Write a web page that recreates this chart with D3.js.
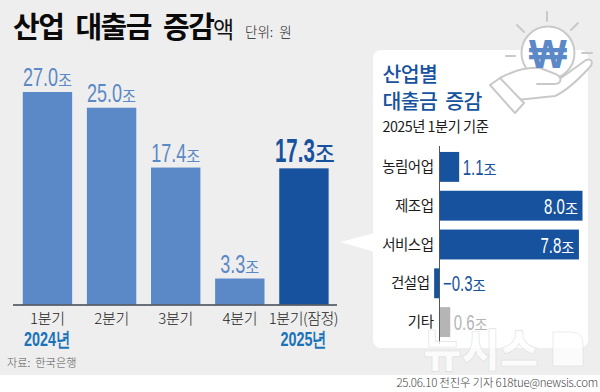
<!DOCTYPE html>
<html><head><meta charset="utf-8">
<script src="https://cdn.jsdelivr.net/npm/d3@7"></script>
<style>
html,body{margin:0;padding:0;background:#fff}
svg{display:block}
text{font-family:"Noto Sans CJK KR","Noto Sans",sans-serif}
.num{font-family:"Liberation Sans",sans-serif}
</style></head><body>
<svg id="c" width="600" height="392"></svg>
<script>
const quarters=["1분기","2분기","3분기","4분기","1분기(잠정)"];
const quarterValues=[27.0,25.0,17.4,3.3,17.3];
const quarterLabels=["27.0","25.0","17.4","3.3","17.3"];
const yearLabels=[["2024년",0],["2025년",4]];
const sectors=["농림어업","제조업","서비스업","건설업","기타"];
const sectorValues=[1.1,8.0,7.8,-0.3,0.6];
const sectorLabels=["1.1","8.0","7.8","−0.3","0.6"];

const svg=d3.select("#c");
svg.append("rect").attr("width",600).attr("height",375).attr("fill","#eeeeee");

// number + unit label, with the digits horizontally condensed like the original typeface
function label(g,x,y,num,unit,o){
  const n=g.append("text").attr("class","num").attr("font-size",o.size).attr("fill",o.fill).attr("font-weight",o.nw||400).text(num);
  const u=g.append("text").attr("font-size",o.usize).attr("fill",o.fill).attr("font-weight",o.uw||400).text(unit);
  const nw=n.node().getComputedTextLength()*o.sx, uw=u.node().getComputedTextLength()*(o.usx||0.95);
  const total=nw+uw;
  const x0=o.anchor=="end"?x-total:o.anchor=="start"?x:x-total/2;
  n.attr("transform",`translate(${x0},${y}) scale(${o.sx},1)`);
  u.attr("transform",`translate(${x0+nw},${y}) scale(${o.usx||0.95},1)`);
}

// Title
svg.append("text").attr("x",13).attr("y",38).attr("font-size",29).attr("font-weight",700).attr("letter-spacing",-1.5).attr("word-spacing",7).attr("fill","#0a0a0a").attr("xml:space","preserve").text("산업 대출금 증감");
svg.append("text").attr("x",213).attr("y",38).attr("font-size",23).attr("font-weight",400).attr("fill","#111").text("액");
svg.append("text").attr("x",245).attr("y",37).attr("font-size",13.5).attr("font-weight",300).attr("fill","#222").attr("xml:space","preserve").text("단위:  원");

// Main bars
const x=d3.scaleBand().domain(d3.range(quarters.length)).range([15.4,336]).paddingInner(0.23).paddingOuter(0.115);
const y=d3.scaleLinear().domain([0,27]).range([304.5,92]);
const main=svg.append("g");
main.selectAll("rect").data(quarterValues).join("rect")
  .attr("x",(d,i)=>x(i)).attr("y",d=>y(d)).attr("width",x.bandwidth()).attr("height",d=>y(0)-y(d))
  .attr("fill",(d,i)=>i==4?"#17529e":"#5b88c6");
quarterValues.forEach((d,i)=>{
  const big=i==4;
  label(main,x(i)+x.bandwidth()/2+(big?1:0),y(d)-6,quarterLabels[i],"조",
    big?{fill:"#17529e",size:33,sx:0.62,nw:700,usize:23,uw:500}
       :{fill:"#5b88c6",size:25,sx:0.72,usize:16,uw:400});
});
main.append("line").attr("x1",13).attr("x2",337).attr("y1",305).attr("y2",305).attr("stroke","#3f4650").attr("stroke-width",1.6);
quarters.forEach((q,i)=>{
  main.append("text").attr("x",x(i)+x.bandwidth()/2+(i==4?-0.5:0)).attr("y",324).attr("text-anchor","middle")
   .attr("font-size",15).attr("font-weight",300).attr("letter-spacing",i==4?-0.5:-0.3).attr("fill","#1c1c1c").text(q);
});
yearLabels.forEach(([t,i])=>{
  main.append("text").attr("transform",`translate(${x(i)+x.bandwidth()/2-0.5},346) scale(0.72,1)`).attr("text-anchor","middle")
   .attr("class","num").attr("font-size",20).attr("font-weight",700).attr("fill","#1a72b8").text(t);
});
svg.append("text").attr("x",7).attr("y",367).attr("font-size",11.2).attr("font-weight",300).attr("fill","#555").attr("xml:space","preserve").text("자료:  한국은행");

// Panel
svg.append("path").attr("d","M340 242 L375 233 L375 252 Z").attr("fill","#fff");
svg.append("rect").attr("x",373).attr("y",50).attr("width",215).attr("height",298).attr("rx",8).attr("fill","#fff");

// Icon
const ic=svg.append("g").attr("fill","none").attr("stroke","#c9c9c9").attr("stroke-width",2).attr("stroke-linecap","round");
ic.append("circle").attr("cx",548).attr("cy",53).attr("r",26.5).attr("fill","#fff");
["M547 12V21","M517 25L524 32","M578 23L571 30","M506 56H515","M582 53H592"].forEach(d=>ic.append("path").attr("d",d));
ic.append("path").attr("fill","#fff").attr("stroke-linejoin","round").attr("d","M500 78 C515 70 530 67 540 68 L553 73 C563 76 563 84 553 84 L537 84 M561 78 L586 60 C592 58 594 63 589 68 C578 80 568 90 555 96 L517 100 L508 98");
ic.append("path").attr("fill","#fff").attr("stroke-linejoin","round").attr("d","M490 85 L500 78 L524 103 L515 113 Z");
svg.append("text").attr("x",548).attr("y",68).attr("text-anchor","middle").attr("font-size",40).attr("font-weight",700).attr("fill","#5b88c6").style("font-family","'Liberation Sans',sans-serif").text("₩");

// Panel text
svg.append("text").attr("x",382.5).attr("y",82).attr("font-size",20.5).attr("font-weight",500).attr("letter-spacing",-0.6).attr("fill","#17529e").text("산업별");
svg.append("text").attr("x",382.5).attr("y",109).attr("font-size",20.5).attr("font-weight",500).attr("letter-spacing",-0.6).attr("word-spacing",4).attr("fill","#17529e").attr("xml:space","preserve").text("대출금 증감");
svg.append("text").attr("x",382.5).attr("y",132).attr("font-size",14.3).attr("font-weight",400).attr("letter-spacing",-0.5).attr("fill","#1c1c1c").attr("xml:space","preserve").text("2025년 1분기 기준");

// Horizontal bars
const hx=d3.scaleLinear().domain([0,8]).range([439.5,582.5]);
const hy=d3.scaleBand().domain(d3.range(sectors.length)).range([147.5,341.5]).paddingInner(0.23).paddingOuter(0.115);
const h=svg.append("g");
const hcol=i=>i==4?"#b5b5b5":"#17529e";
h.selectAll("rect").data(sectorValues).join("rect")
 .attr("x",d=>hx(Math.min(0,d))).attr("y",(d,i)=>hy(i)).attr("width",d=>Math.abs(hx(d)-hx(0))).attr("height",hy.bandwidth()).attr("fill",(d,i)=>hcol(i));
h.append("line").attr("x1",439.5).attr("x2",439.5).attr("y1",146).attr("y2",344).attr("stroke","#555").attr("stroke-width",1);
sectors.forEach((s,i)=>{
  const v=sectorValues[i],cy=hy(i)+hy.bandwidth()/2;
  h.append("text").attr("x",v<0?429.5:433.5).attr("y",cy+5).attr("text-anchor","end").attr("font-size",14.5).attr("font-weight",400).attr("letter-spacing",-0.5).attr("fill","#1c1c1c").text(s);
  const inside=v>5;
  label(h,inside?hx(v)-4.5:hx(Math.max(v,0))+3.5,cy+8,sectorLabels[i],"조",
    {anchor:inside?"end":"start",fill:inside?"#fff":(i==4?"#b5b5b5":"#17529e"),size:22,sx:0.68,nw:400,usize:15,uw:400});
});

// Watermark
svg.append("text").attr("transform","translate(423,367) scale(0.93,1)").attr("font-size",45).attr("font-weight",900).attr("fill","#fff").attr("fill-opacity",0.78).attr("stroke","#d4d4d4").attr("stroke-opacity",0.7).attr("stroke-width",0.7).text("뉴시스");
svg.append("path").attr("d","M553 332 H572 Q583 332 583 345 V366 H553 Z").attr("fill","#fff").attr("fill-opacity",0.78).attr("stroke","#d4d4d4").attr("stroke-opacity",0.7).attr("stroke-width",0.7);

// Credit
svg.append("text").attr("x",598).attr("y",387).attr("text-anchor","end").attr("font-size",11.5).attr("font-weight",300).attr("letter-spacing",-0.25).attr("fill","#444").text("25.06.10 전진우 기자 618tue@newsis.com");
</script>
</body></html>
